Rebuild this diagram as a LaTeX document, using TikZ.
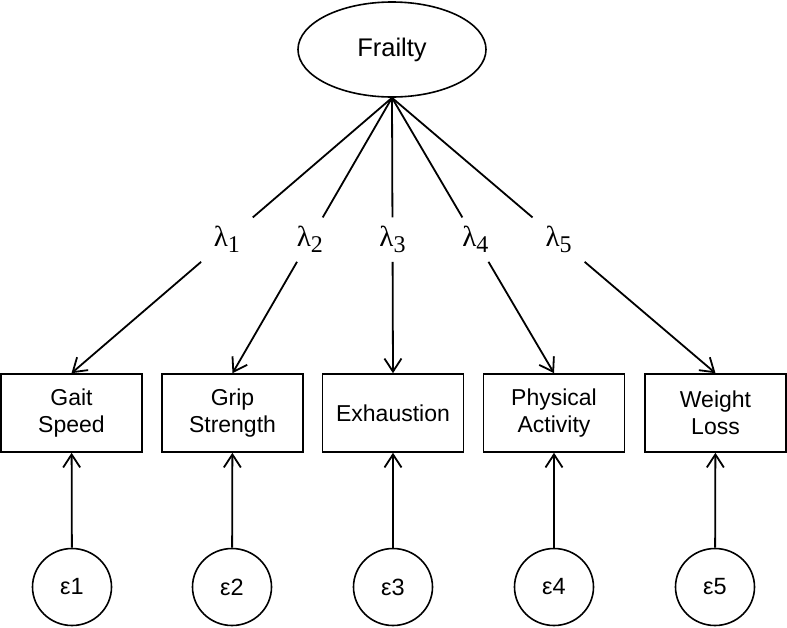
\documentclass[tikz,border=0pt]{standalone}
\usepackage{fontspec}
\setmainfont{Liberation Sans}
\newfontfamily\lamfont{Liberation Serif}
\usetikzlibrary{shapes.geometric,arrows.meta}
\tikzset{
  obs/.style={draw, line width=1.6pt, rectangle, minimum width=141pt, minimum height=78pt, align=center, font=\fontsize{23}{27}\selectfont, inner sep=0pt},
  lat/.style={draw, line width=1.6pt, ellipse, minimum width=188pt, minimum height=95pt, font=\fontsize{25.5}{30}\selectfont, inner sep=0pt},
  err/.style={draw, line width=1.6pt, ellipse, minimum width=79pt, minimum height=77pt, font=\fontsize{23.5}{27}\selectfont, inner sep=0pt},
  lbl/.style={rectangle, minimum width=52pt, minimum height=44pt, inner sep=0pt, font=\lamfont\fontsize{29}{32}\selectfont},
  conn/.style={line width=1.8pt},
  arr/.style={line width=1.8pt, -{Straight Barb[length=13pt,width=17pt,line width=1.8pt]}}
}
\newcommand{\lamsub}[1]{λ\raisebox{-6pt}{\fontsize{24}{26}\selectfont #1}}
\begin{document}
\begin{tikzpicture}[x=1pt,y=-1pt]
\useasboundingbox (0,0) rectangle (787,627);
\node[lat] (F) at (392,49.5) {Frailty};
\node[obs] (b1) at (71.5,413) {Gait\\Speed};
\node[obs] (b2) at (232.5,413) {Grip\\Strength};
\node[obs] (b3) at (393,413) {Exhaustion};
\node[obs] (b4) at (554,413) {Physical\\Activity};
\node[obs] (b5) at (715.5,413) {Weight\\Loss};
\foreach \i/\x in {1/72,2/232,3/393,4/554,5/715}{
  \node[err] (e\i) at (\x,587) {ε\i};
  \draw[arr] (e\i) -- (b\i);
  \path (F.south) -- (b\i.north) node[pos=0.515, lbl] (l\i) {\lamsub{\i}};
  \draw[conn] (F.south) -- (l\i);
  \draw[arr] (l\i) -- (b\i.north);
}
\end{tikzpicture}
\end{document}
